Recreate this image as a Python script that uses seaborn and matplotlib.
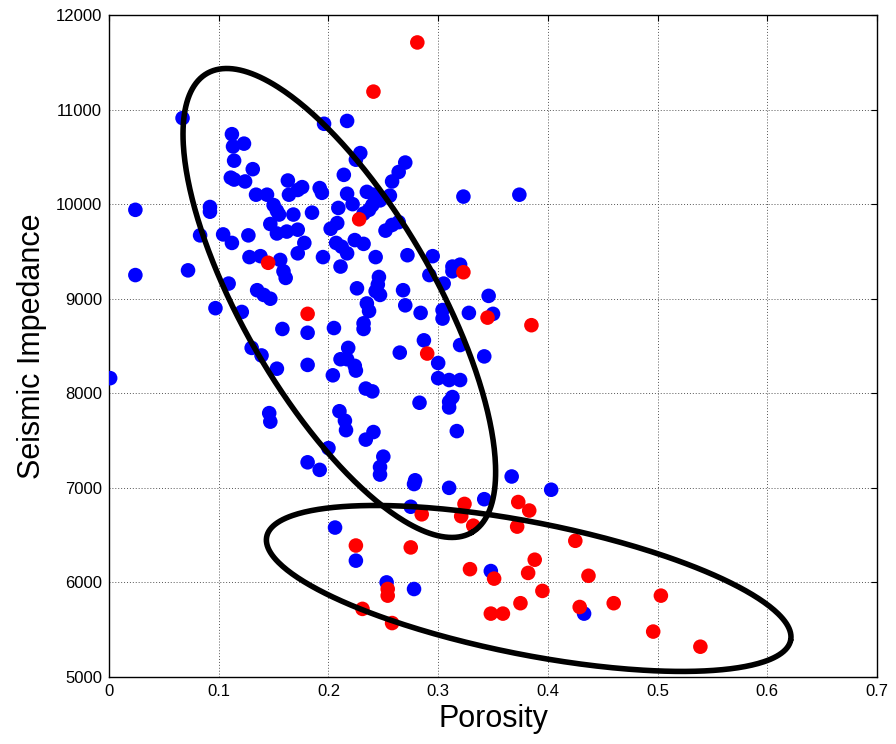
import numpy as np
import pandas as pd
import matplotlib
matplotlib.use("Agg")
import matplotlib.pyplot as plt
import seaborn as sns

# Blue samples: porosity (fraction) and seismic impedance
blue_porosity = [
    0.067, 0.112, 0.123, 0.113, 0.114, 0.131, 0.111, 0.114, 0.124, 0.163,
    0.164, 0.172, 0.176, 0.134, 0.144, 0.150, 0.153, 0.155, 0.168, 0.024,
    0.092, 0.092, 0.147, 0.153, 0.162, 0.172, 0.083, 0.104, 0.112, 0.127,
    0.128, 0.138, 0.156, 0.172, 0.159, 0.161, 0.024, 0.072, 0.109, 0.135,
    0.217, 0.196, 0.229, 0.225, 0.214, 0.258, 0.264, 0.270, 0.192, 0.194,
    0.217, 0.235, 0.241, 0.244, 0.240, 0.237, 0.232, 0.222, 0.256, 0.247,
    0.209, 0.185, 0.202, 0.208, 0.252, 0.258, 0.264, 0.178, 0.207, 0.212,
    0.217, 0.224, 0.232, 0.195, 0.243, 0.211, 0.246, 0.245, 0.226, 0.323,
    0.374, 0.272, 0.295, 0.001, 0.097, 0.121, 0.158, 0.130, 0.139, 0.153,
    0.146, 0.147, 0.141, 0.147, 0.243, 0.247, 0.268, 0.235, 0.237, 0.270,
    0.284, 0.304, 0.304, 0.181, 0.205, 0.232, 0.232, 0.287, 0.265, 0.300,
    0.300, 0.181, 0.218, 0.211, 0.217, 0.224, 0.225, 0.204, 0.234, 0.240,
    0.283, 0.210, 0.215, 0.216, 0.234, 0.241, 0.200, 0.181, 0.192, 0.250,
    0.247, 0.247, 0.279, 0.313, 0.320, 0.313, 0.292, 0.305, 0.346, 0.328,
    0.350, 0.320, 0.342, 0.310, 0.320, 0.313, 0.310, 0.310, 0.317, 0.367,
    0.278, 0.310, 0.403, 0.342, 0.275, 0.206, 0.225, 0.253, 0.278, 0.348,
    0.433,
]
blue_impedance = [
    10910, 10740, 10640, 10610, 10460, 10370, 10280, 10260, 10240, 10250,
    10100, 10150, 10180, 10100, 10100, 9990, 9930, 9890, 9890, 9940,
    9970, 9920, 9790, 9690, 9710, 9730, 9670, 9680, 9590, 9670,
    9440, 9450, 9410, 9480, 9290, 9220, 9250, 9300, 9160, 9090,
    10880, 10850, 10540, 10470, 10310, 10240, 10340, 10440, 10170, 10120,
    10110, 10130, 10100, 10040, 9990, 9940, 9900, 10000, 10090, 10040,
    9960, 9910, 9740, 9800, 9720, 9780, 9810, 9590, 9590, 9550,
    9480, 9620, 9580, 9440, 9440, 9340, 9230, 9150, 9110, 10080,
    10100, 9460, 9450, 8160, 8900, 8860, 8680, 8480, 8400, 8260,
    7790, 7700, 9040, 9000, 9080, 9040, 9090, 8950, 8870, 8930,
    8850, 8880, 8790, 8640, 8690, 8740, 8680, 8560, 8430, 8320,
    8160, 8300, 8480, 8360, 8360, 8290, 8240, 8190, 8050, 8020,
    7900, 7810, 7710, 7610, 7510, 7590, 7420, 7270, 7190, 7330,
    7220, 7140, 7080, 9340, 9360, 9290, 9250, 9160, 9030, 8850,
    8840, 8510, 8390, 8140, 8140, 7960, 7910, 7850, 7600, 7120,
    7040, 7000, 6980, 6880, 6800, 6580, 6230, 6000, 5930, 6120,
    5670,
]

# Red samples
red_porosity = [
    0.281, 0.241, 0.228, 0.145, 0.181, 0.323, 0.345, 0.385, 0.290, 0.285,
    0.324, 0.321, 0.332, 0.373, 0.383, 0.372, 0.425, 0.329, 0.351, 0.382,
    0.388, 0.437, 0.395, 0.375, 0.348, 0.359, 0.429, 0.460, 0.503, 0.496,
    0.539, 0.225, 0.275, 0.254, 0.254, 0.231, 0.258,
]
red_impedance = [
    11710, 11190, 9840, 9380, 8840, 9280, 8800, 8720, 8420, 6720,
    6830, 6700, 6600, 6850, 6760, 6590, 6440, 6140, 6040, 6100,
    6240, 6070, 5910, 5780, 5670, 5670, 5740, 5780, 5860, 5480,
    5320, 6390, 6370, 5930, 5860, 5720, 5570,
]

x_ticks = [0, 0.1, 0.2, 0.3, 0.4, 0.5, 0.6, 0.7]
x_tick_labels = ["0", "0.1", "0.2", "0.3", "0.4", "0.5", "0.6", "0.7"]
y_ticks = [5000, 6000, 7000, 8000, 9000, 10000, 11000, 12000]

# Cluster outlines: centre plus two half-axis vectors (porosity, impedance)
upper_centre = (0.2099, 8955)
upper_major = (0.1207, -2427)
upper_minor = (0.0757, 508)
lower_centre = (0.3825, 5936)
lower_major = (0.2388, -547)
lower_minor = (-0.0117, -686)

df = pd.concat([
    pd.DataFrame({"Porosity": blue_porosity, "Impedance": blue_impedance, "group": "blue"}),
    pd.DataFrame({"Porosity": red_porosity, "Impedance": red_impedance, "group": "red"}),
], ignore_index=True)

sns.set_style("white")
plt.rcParams["font.family"] = ["Liberation Sans", "DejaVu Sans"]
plt.rcParams["text.color"] = "black"
plt.rcParams["axes.labelcolor"] = "black"

fig = plt.figure(figsize=(8.96, 7.44), dpi=100)
ax = fig.add_axes([0.1217, 0.0901, 0.8571, 0.8897])

sns.scatterplot(data=df, x="Porosity", y="Impedance", hue="group",
                palette={"blue": "#0000FF", "red": "#FF0000"},
                s=110, linewidth=0, legend=False, ax=ax, zorder=3)

t = np.linspace(0, 2 * np.pi, 400)
for c, u, v in [(upper_centre, upper_major, upper_minor),
                (lower_centre, lower_major, lower_minor)]:
    ex = c[0] + u[0] * np.cos(t) + v[0] * np.sin(t)
    ey = c[1] + u[1] * np.cos(t) + v[1] * np.sin(t)
    ax.plot(ex, ey, color="black", lw=4.0, zorder=4, solid_capstyle="round")

ax.set_xlim(0, 0.7)
ax.set_ylim(5000, 12000)
ax.set_xticks(x_ticks)
ax.set_xticklabels(x_tick_labels)
ax.set_yticks(y_ticks)
ax.grid(True, color="#555555", linestyle=(0, (1, 2)), linewidth=0.7, zorder=0)
ax.set_axisbelow(True)
ax.tick_params(direction="in", length=4, width=0.8, top=True, right=True,
               labelsize=12, pad=5, colors="black")
for sp in ax.spines.values():
    sp.set_visible(True)
    sp.set_color("black")
    sp.set_linewidth(1.0)

ax.set_xlabel("Porosity", fontsize=22, labelpad=4)
ax.set_ylabel("Seismic Impedance", fontsize=22, labelpad=6)

fig.savefig("out.png", dpi=100)
